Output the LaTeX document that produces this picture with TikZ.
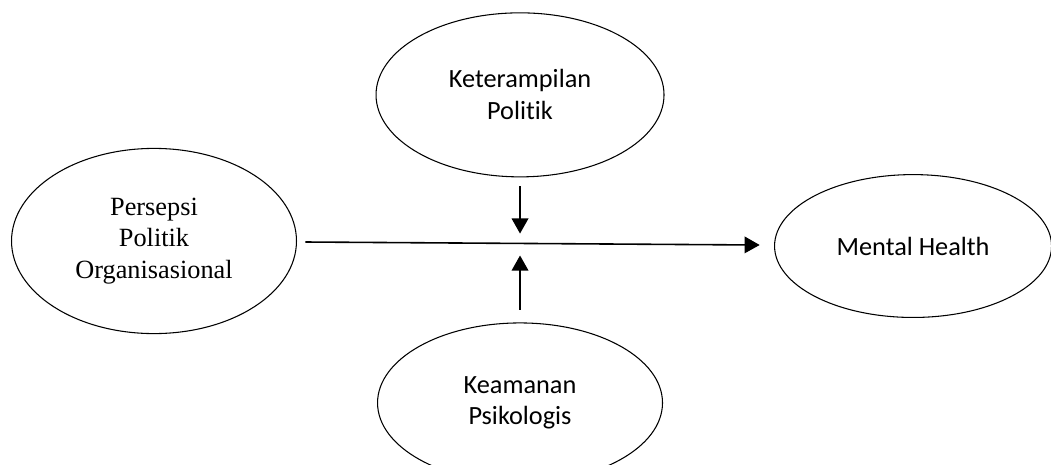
\documentclass[tikz,border=0pt]{standalone}
\usepackage{fontspec}
\setmainfont{Carlito}[RawFeature={-liga;-clig;-dlig;-calt}]
\newfontfamily\timesfont{Liberation Serif}
\usepackage{tikz}
\usetikzlibrary{shapes.geometric,arrows.meta,positioning,calc}

\begin{document}
\begin{tikzpicture}[
  every node/.style={font=\fontsize{19.8}{24}\selectfont},
  variabel/.style={ellipse, draw=black, line width=0.8pt, inner sep=0pt, align=center},
  panah/.style={-{Triangle[length=4mm, width=4.4mm]}, line width=1.2pt}
]
\useasboundingbox (0,0) rectangle (27.81,-12.30);

% variabel independen (kiri)
\node[variabel, minimum width=7.54cm, minimum height=4.90cm, font=\timesfont\fontsize{19.8}{23.8}\selectfont]
      (pop) at (4.075,-6.377) {Persepsi\\Politik\\Organisasional};

% moderator atas
\node[variabel, minimum width=7.62cm, minimum height=4.34cm]
      (kp) at (13.76,-2.51) {Keterampilan\\Politik};

% variabel dependen (kanan)
\node[variabel, minimum width=7.33cm, minimum height=3.78cm]
      (mh) at (24.16,-6.51) {Mental Health};

% moderator bawah
\node[variabel, minimum width=7.54cm, minimum height=4.23cm]
      (km) at (13.76,-10.66) {Keamanan\\Psikologis};

% titik moderasi pada jalur utama
\coordinate (mid) at (13.71,-6.52);

% jalur utama dan panah moderasi
\draw[panah, shorten <=0.22cm, shorten >=0.38cm] (pop) -- (mh);
\draw[panah, shorten <=0.24cm, shorten >=0.34cm] (kp.south) -- (kp.south |- mid);
\draw[panah, shorten <=0.34cm, shorten >=0.24cm] (km.north) -- (km.north |- mid);
\end{tikzpicture}
\end{document}
